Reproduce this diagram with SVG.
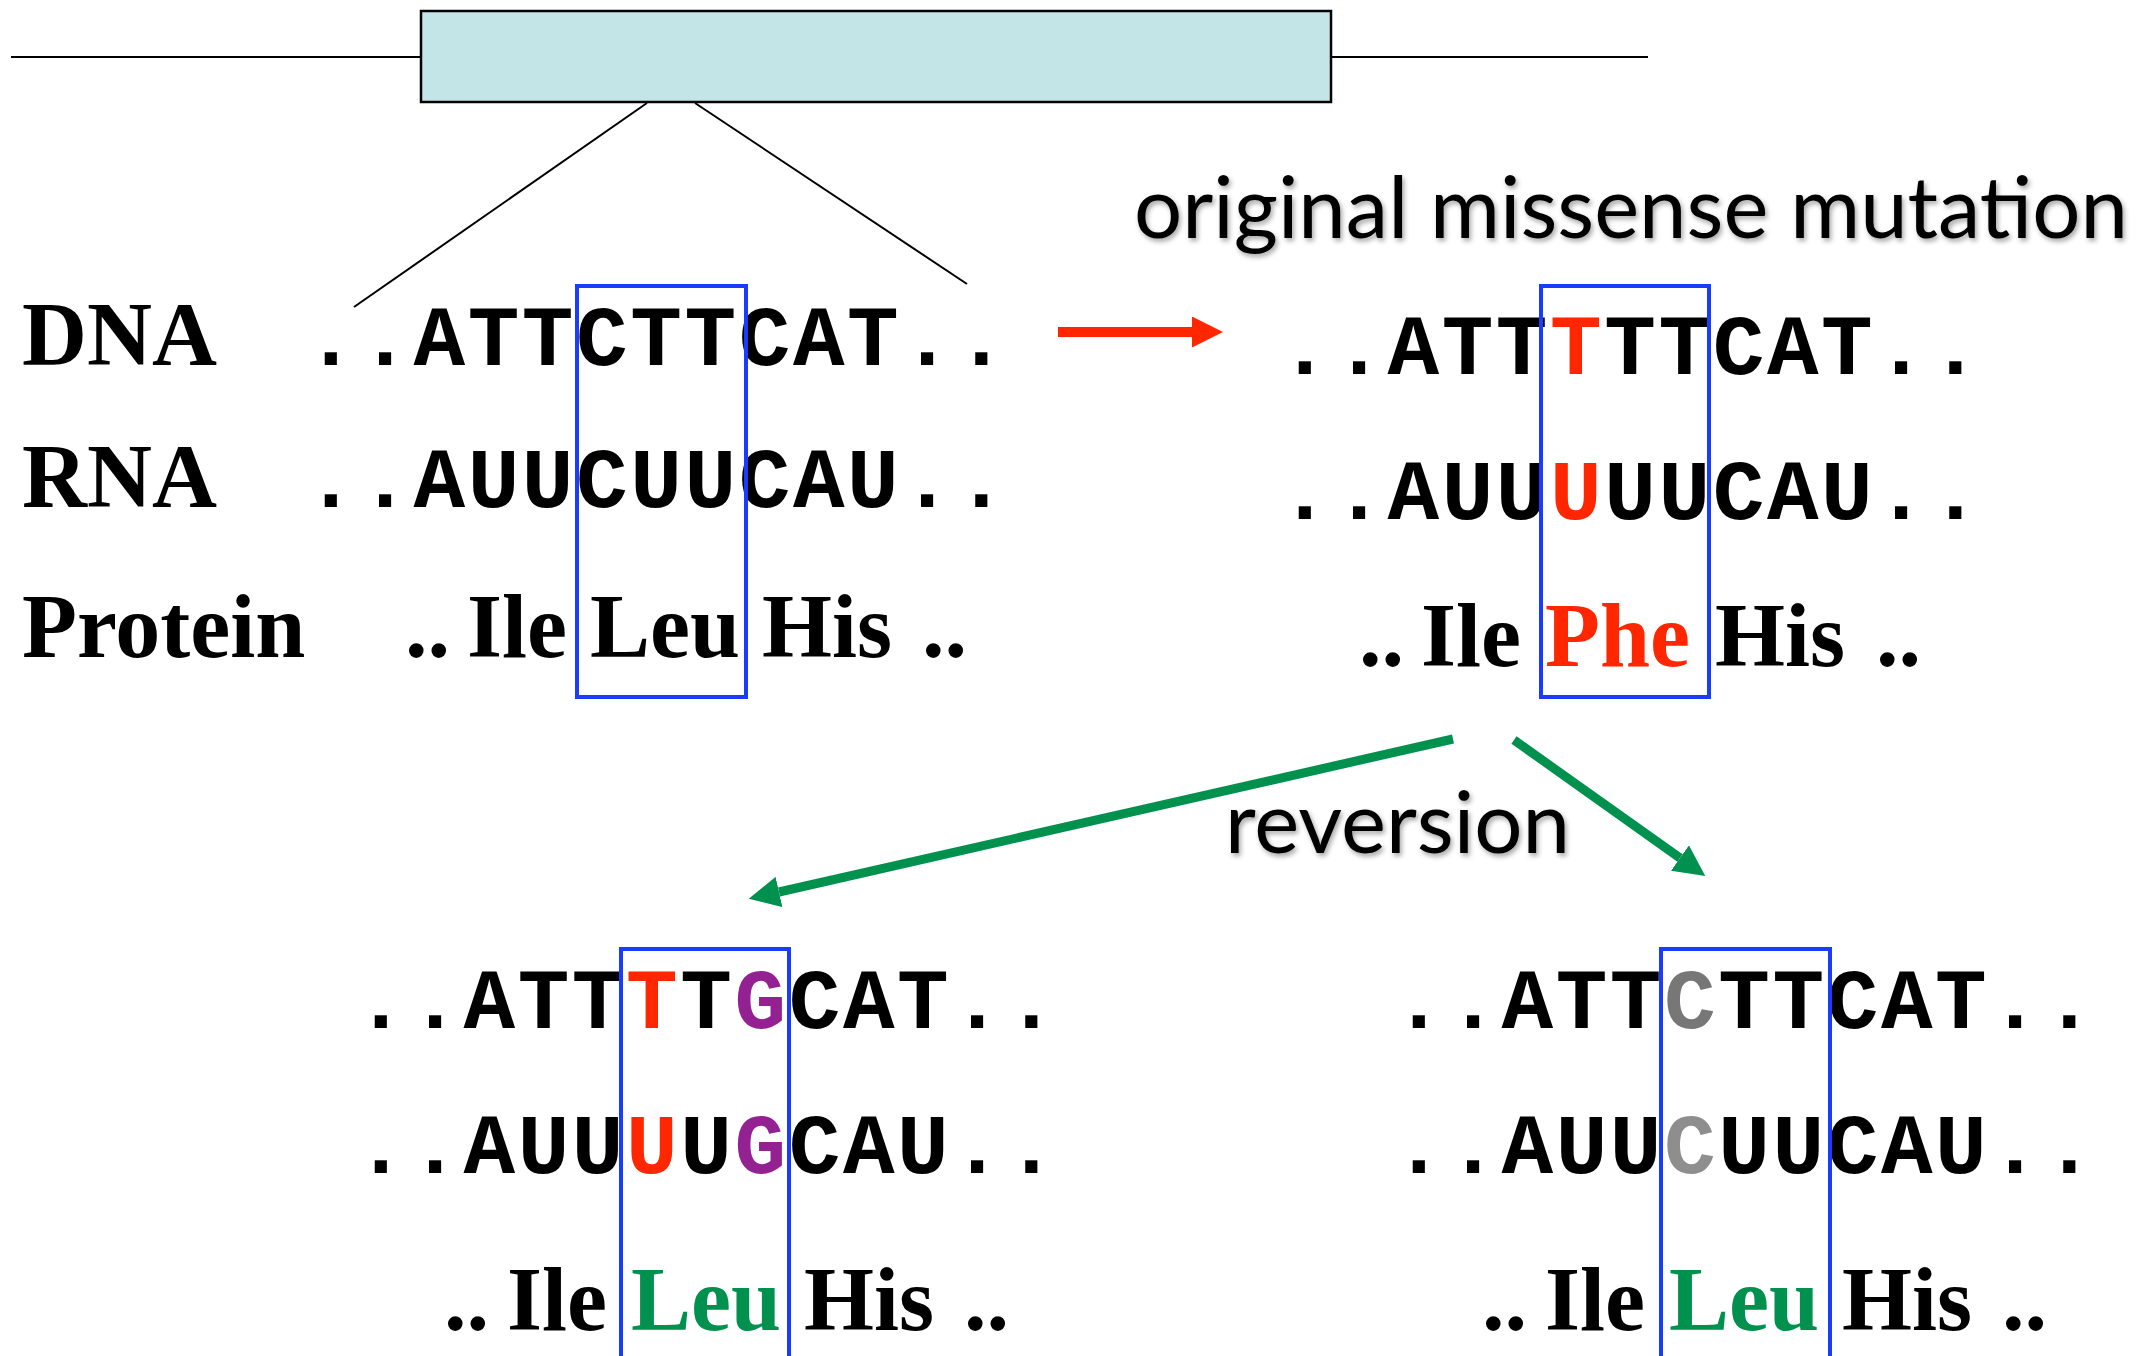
<svg xmlns="http://www.w3.org/2000/svg" width="2142" height="1356" viewBox="0 0 2142 1356">
<style>
.lbl{font-family:"Liberation Serif","Times New Roman",serif;font-weight:bold;font-size:90px;fill:#000}
.seq{font-family:"Liberation Mono","Courier New",monospace;font-weight:bold;font-size:86px;letter-spacing:2.6px;fill:#000}
.aa{font-family:"Liberation Serif","Times New Roman",serif;font-weight:bold;font-size:90px;fill:#000}
.cap{font-family:Lato,"Open Sans",sans-serif;font-size:86px;fill:#000}
.codon{fill:none;stroke:#1a3cff;stroke-width:4}
.red{fill:#ff2600}
.grn{fill:#00914f}
.pur{fill:#942192}
.gr1{fill:#777777}
.gr2{fill:#8e8e8e}
.thin{stroke:#000;stroke-width:2;fill:none}
.garrow{stroke:#00914f;stroke-width:9;fill:none}
</style>
<defs>
<filter id="shadow" x="-5%" y="-20%" width="110%" height="150%">
<feDropShadow dx="2" dy="3" stdDeviation="2.5" flood-color="#000" flood-opacity="0.35"/>
</filter>
<marker id="ghead" markerUnits="userSpaceOnUse" viewBox="0 0 31 31" markerWidth="31" markerHeight="31" refX="0" refY="15.5" orient="auto">
<path d="M0,0 L31,15.5 L0,31 Z" fill="#00914f"/>
</marker>
<marker id="rhead" markerUnits="userSpaceOnUse" viewBox="0 0 31 31" markerWidth="31" markerHeight="31" refX="0" refY="15.5" orient="auto">
<path d="M0,0 L31,15.5 L0,31 Z" fill="#ff2600"/>
</marker>
</defs>
<rect width="2142" height="1356" fill="#fff"/>

<g id="gene">
<line x1="11" y1="57" x2="421" y2="57" class="thin"/>
<line x1="1331" y1="57" x2="1648" y2="57" class="thin"/>
<rect x="421" y="11" width="910" height="91" fill="#c4e5e8" stroke="#000" stroke-width="2.5"/>
</g>

<g id="row-labels">
<text class="lbl" x="22" y="365">DNA</text>
<text class="lbl" x="22" y="507">RNA</text>
<text class="lbl" x="22" y="657">Protein</text>
</g>

<g id="seq-original">
<text class="seq" x="305" y="365">..ATTCTTCAT..</text>
<text class="seq" x="305" y="507">..AUUCUUCAU..</text>
<text class="aa" y="657"><tspan x="405">..</tspan><tspan x="467">Ile</tspan><tspan x="590">Leu</tspan><tspan x="762">His</tspan><tspan x="922">..</tspan></text>
<rect class="codon" x="577" y="286" width="169" height="411"/>
</g>

<g id="label-missense">
<text class="cap" x="1134" y="238" textLength="994" lengthAdjust="spacingAndGlyphs" filter="url(#shadow)">original missense mutation</text>
</g>

<g id="seq-mutant">
<text class="seq" x="1279" y="374">..ATT<tspan class="red">T</tspan>TTCAT..</text>
<text class="seq" x="1279" y="519">..AUU<tspan class="red">U</tspan>UUCAU..</text>
<text class="aa" y="666"><tspan x="1359">..</tspan><tspan x="1421">Ile</tspan><tspan x="1545" class="red">Phe</tspan><tspan x="1715">His</tspan><tspan x="1876">..</tspan></text>
<rect class="codon" x="1541" y="286" width="168" height="411"/>
</g>

<g id="label-reversion">
<text class="cap" x="1225" y="853" textLength="345" lengthAdjust="spacingAndGlyphs" filter="url(#shadow)">reversion</text>
</g>

<g id="seq-revertant-1">
<text class="seq" x="355" y="1028">..ATT<tspan class="red">T</tspan>T<tspan class="pur">G</tspan>CAT..</text>
<text class="seq" x="355" y="1173">..AUU<tspan class="red">U</tspan>U<tspan class="pur">G</tspan>CAU..</text>
<text class="aa" y="1330"><tspan x="444">..</tspan><tspan x="507">Ile</tspan><tspan x="631" class="grn">Leu</tspan><tspan x="804">His</tspan><tspan x="964">..</tspan></text>
<rect class="codon" x="621" y="949" width="168" height="420"/>
</g>

<g id="seq-revertant-2">
<text class="seq" x="1393" y="1028">..ATT<tspan class="gr1">C</tspan>TTCAT..</text>
<text class="seq" x="1393" y="1173">..AUU<tspan class="gr2">C</tspan>UUCAU..</text>
<text class="aa" y="1330"><tspan x="1482">..</tspan><tspan x="1545">Ile</tspan><tspan x="1669" class="grn">Leu</tspan><tspan x="1842">His</tspan><tspan x="2002">..</tspan></text>
<rect class="codon" x="1661" y="949" width="169" height="420"/>
</g>

<g id="connectors">
<line x1="647" y1="103" x2="354" y2="307" stroke="#000" stroke-width="2"/>
<line x1="695" y1="103" x2="967" y2="284" stroke="#000" stroke-width="2"/>
<line x1="1058" y1="332" x2="1192" y2="332" stroke="#ff2600" stroke-width="10" marker-end="url(#rhead)"/>
<line x1="1453" y1="739" x2="779" y2="892" class="garrow" marker-end="url(#ghead)"/>
<line x1="1514" y1="740" x2="1680" y2="858" class="garrow" marker-end="url(#ghead)"/>
</g>
</svg>
